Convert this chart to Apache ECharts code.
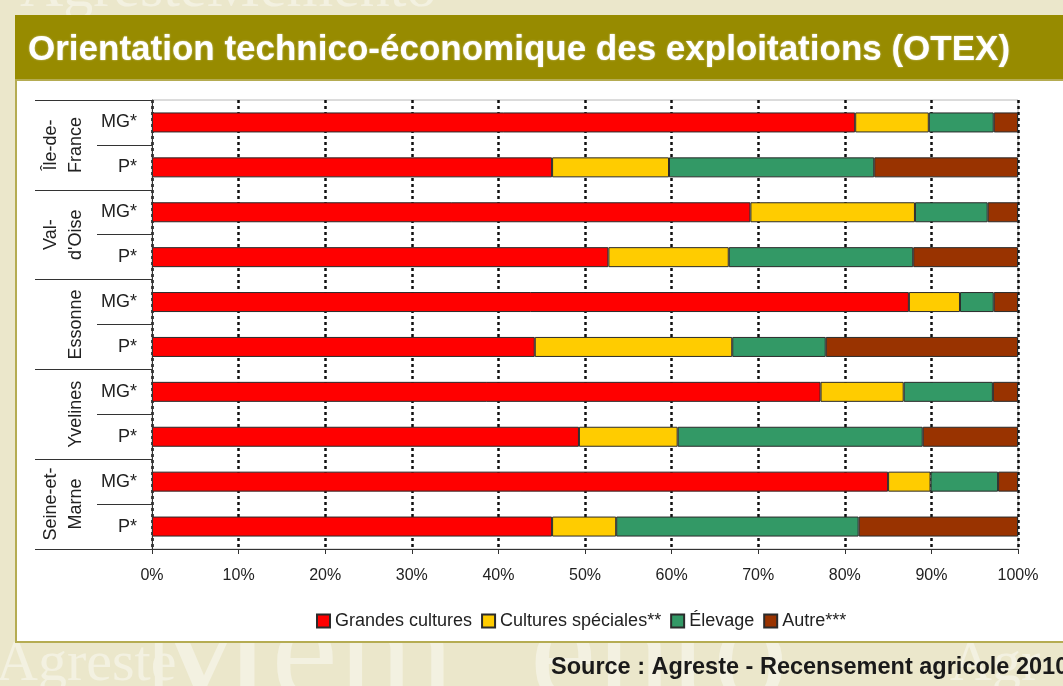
<!DOCTYPE html>
<html>
<head>
<meta charset="utf-8">
<script src="https://cdn.jsdelivr.net/npm/echarts@6/dist/echarts.min.js"></script>
<style>
html, body { margin: 0; padding: 0; background: #ebe7cb; }
#chart { width: 1063px; height: 686px; }
</style>
</head>
<body>
<div id="chart"></div>
<script>
// départements (outer axis) and farm size (inner axis)
const regions = ['Île-de-\nFrance', "Val-\nd'Oise", 'Essonne', 'Yvelines', 'Seine-et-\nMarne']
const sizes = ['MG*', 'P*', 'MG*', 'P*', 'MG*', 'P*', 'MG*', 'P*', 'MG*', 'P*']

// % of farms per OTEX, one value per row (top to bottom)
const grandesCultures = [81.2, 46.2, 69.1, 52.7, 87.4, 44.2, 77.2, 49.3, 85.0, 46.2]
const culturesSpeciales = [8.5, 13.5, 19.0, 13.9, 5.9, 22.8, 9.6, 11.4, 4.9, 7.4]
const elevage = [7.5, 23.7, 8.4, 21.3, 3.9, 10.8, 10.3, 28.3, 7.8, 28.0]
const autre = [2.8, 16.6, 3.5, 12.1, 2.8, 22.2, 2.9, 11.0, 2.3, 18.4]

const seriesNames = ['Grandes cultures', 'Cultures spéciales**', 'Élevage', 'Autre***']
const seriesColors = ['#ff0000', '#ffcc00', '#339966', '#993300']

const chart = echarts.init(document.getElementById('chart'))
const font = '"Liberation Sans", Arial, sans-serif'

const makeBar = (name, data, i) => ({
  name,
  type: 'bar',
  stack: 'otex',
  barWidth: 20,
  data,
  itemStyle: { color: seriesColors[i], borderColor: '#2b2b2b', borderWidth: 1 }
})

chart.setOption({
  animation: false,
  backgroundColor: '#ebe7cb',
  textStyle: { fontFamily: font },
  graphic: [
    // faint "Agreste Mémento" watermark of the slide
    { type: 'text', z: -20, left: -4, top: 636, style: { text: 'Agreste', font: '58px "Liberation Serif", serif', fill: '#f3f1e1' } },
    { type: 'text', z: -20, left: 138, top: 585, style: { text: 'Mém  ento', font: '150px "Liberation Serif", serif', fill: '#f3f1e1' } },
    { type: 'text', z: -20, left: 950, top: 636, style: { text: 'Agr', font: '58px "Liberation Serif", serif', fill: '#f3f1e1' } },
    { type: 'text', z: -20, left: 20, top: -40, style: { text: 'AgresteMémento', font: '60px "Liberation Serif", serif', fill: '#f3f1e1' } },
    // title band and white panel
    { type: 'rect', z: -10, shape: { x: 15, y: 15, width: 1060, height: 65 }, style: { fill: '#978b00' } },
    { type: 'rect', z: -10, shape: { x: 16, y: 80, width: 1060, height: 562 }, style: { fill: '#ffffff', stroke: '#b5ac52', lineWidth: 2 } },
    { type: 'text', z: 5, left: 551, top: 656, style: { text: 'Source : Agreste - Recensement agricole 2010', font: 'bold 23.5px "Liberation Sans", Arial, sans-serif', fill: '#1a1a1a' } }
  ],
  title: {
    text: 'Orientation technico-économique des exploitations (OTEX)',
    left: 23,
    top: 28,
    textStyle: {
      color: '#ffffff',
      fontSize: 35,
      fontWeight: 'bold',
      fontFamily: font,
      textShadowColor: 'rgba(255,255,255,0.6)',
      textShadowBlur: 2
    }
  },
  legend: {
    data: seriesNames,
    left: 311,
    top: 607,
    icon: 'rect',
    itemWidth: 13,
    itemHeight: 13,
    itemGap: 9,
    textStyle: { fontSize: 18, color: '#222', fontFamily: font }
  },
  grid: {
    left: 152,
    right: 45,
    top: 100,
    bottom: 137,
    show: true,
    borderColor: '#b8b8b8',
    borderWidth: 1,
    backgroundColor: 'transparent'
  },
  xAxis: {
    type: 'value',
    min: 0,
    max: 100,
    interval: 10,
    axisLine: { show: true, lineStyle: { color: '#333', width: 1 } },
    axisTick: { show: true, length: 5, lineStyle: { color: '#333' } },
    axisLabel: { formatter: '{value}%', fontSize: 16, color: '#222', margin: 19 },
    splitLine: { show: true, lineStyle: { color: '#111', width: 2.5, type: [3, 3] } }
  },
  yAxis: [
    {
      type: 'category',
      data: sizes,
      inverse: true,
      z: 3,
      axisLine: { show: true, lineStyle: { color: '#333' } },
      axisTick: { show: true, interval: 0, length: 55, lineStyle: { color: '#333' } },
      axisLabel: { interval: 0, fontSize: 18, color: '#222', margin: 15 }
    },
    {
      type: 'category',
      data: regions,
      inverse: true,
      position: 'left',
      z: 3,
      axisLine: { show: false },
      axisTick: { show: true, interval: 0, length: 117, lineStyle: { color: '#333' } },
      axisLabel: {
        interval: 0,
        rotate: 90,
        fontSize: 18,
        lineHeight: 25,
        color: '#222',
        margin: 63,
        align: 'center',
        verticalAlign: 'bottom'
      }
    }
  ],
  series: [
    makeBar(seriesNames[0], grandesCultures, 0),
    makeBar(seriesNames[1], culturesSpeciales, 1),
    makeBar(seriesNames[2], elevage, 2),
    makeBar(seriesNames[3], autre, 3)
  ]
})
</script>
</body>
</html>
